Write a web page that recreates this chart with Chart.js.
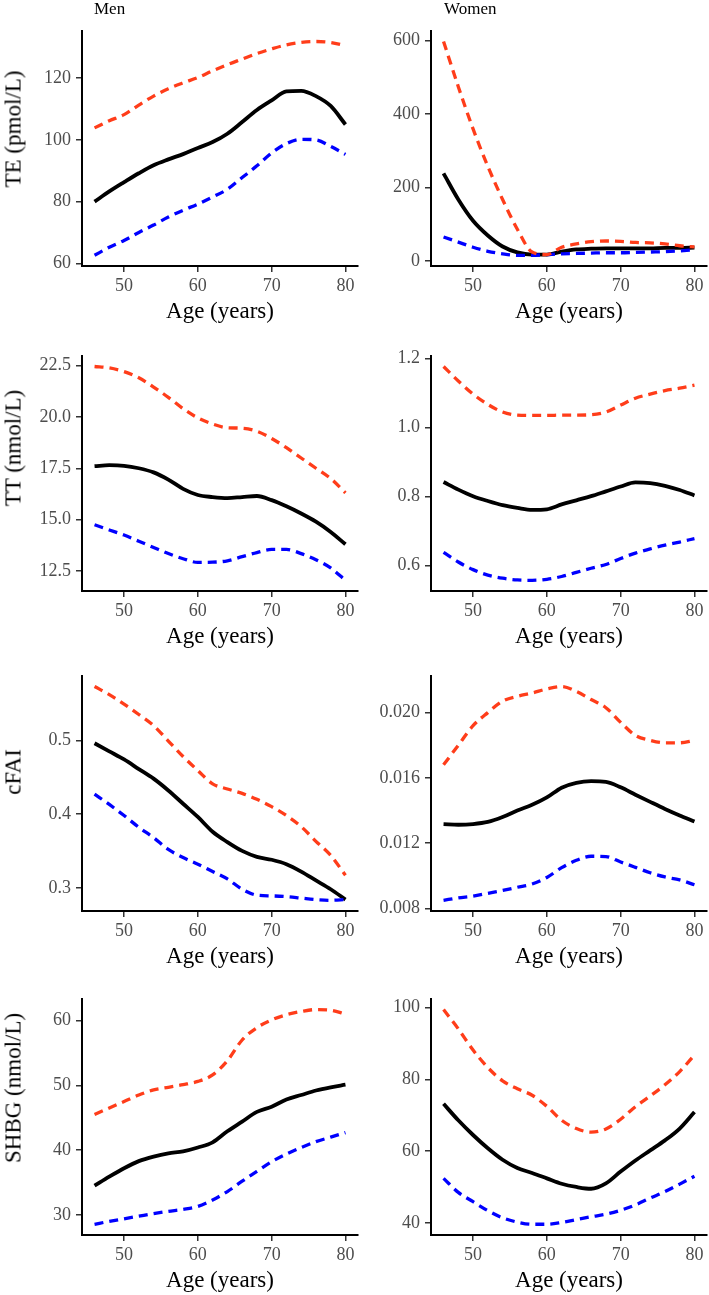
<!DOCTYPE html>
<html>
<head>
<meta charset="utf-8">
<script src="https://cdn.jsdelivr.net/npm/chart.js@4.4.1/dist/chart.umd.min.js"></script>
<style>
  body { margin: 0; background: #fff; }
  #fig { position: relative; width: 709px; height: 1295px; overflow: hidden;
         font-family: 'Liberation Serif', 'Times New Roman', serif; color: #000; }
  .panel { position: absolute; }
  .ytitle { position: absolute; font-size: 23px; line-height: 1; white-space: nowrap;
            transform: translate(-50%, -50%) rotate(-90deg); }
  .sex { position: absolute; font-size: 17px; line-height: 1; }
</style>
</head>
<body>
<div id="fig"></div>
<script>
const ages = [46, 48, 50, 52, 54, 56, 58, 60, 62, 64, 66, 68, 70, 72, 74, 76, 78, 80];
const ageTicks = [50, 60, 70, 80];

// TE (pmol/L)
const teMenUpper = [103.9, 106.2, 108.2, 111.3, 114.2, 116.6, 118.5, 120.2, 122.4, 124.4, 126.2, 128.0, 129.5, 130.8, 131.6, 131.9, 131.6, 130.5];
const teMenMid   = [80.0, 83.3, 86.3, 89.2, 91.8, 93.7, 95.4, 97.4, 99.3, 102.0, 105.8, 109.7, 112.8, 115.7, 115.9, 114.2, 111.0, 105.0];
const teMenLower = [62.6, 65.2, 67.4, 70.0, 72.4, 75.0, 77.2, 79.2, 81.5, 84.0, 87.8, 91.6, 95.8, 98.8, 100.2, 100.0, 97.9, 95.3];
const teMenTicks = [60, 80, 100, 120];

const teWomenUpper = [598, 475, 360, 258, 168, 87, 25, 18, 38, 47, 53, 55, 54, 51, 50, 47, 42, 39];
const teWomenMid   = [239, 168, 110, 70, 40, 24, 18, 18, 26, 32, 34, 35, 35, 35, 35, 36, 36, 37];
const teWomenLower = [66, 52, 38, 27, 20, 16, 16, 18, 20, 21, 22, 23, 23, 24, 25, 26, 28, 31];
const teWomenTicks = [0, 200, 400, 600];

// TT (nmol/L)
const ttMenUpper = [22.45, 22.38, 22.2, 21.9, 21.45, 20.95, 20.4, 19.95, 19.65, 19.47, 19.45, 19.3, 18.95, 18.5, 18.0, 17.5, 17.0, 16.3];
const ttMenMid   = [17.6, 17.65, 17.62, 17.5, 17.3, 16.95, 16.5, 16.2, 16.1, 16.05, 16.1, 16.15, 15.95, 15.65, 15.3, 14.9, 14.4, 13.8];
const ttMenLower = [14.75, 14.5, 14.25, 13.95, 13.65, 13.35, 13.1, 12.92, 12.93, 13.0, 13.2, 13.4, 13.55, 13.55, 13.35, 13.05, 12.65, 12.05];
const ttMenTicks = [12.5, 15, 17.5, 20, 22.5];

const ttWomenUpper = [1.177, 1.135, 1.097, 1.067, 1.045, 1.036, 1.035, 1.035, 1.036, 1.036, 1.037, 1.045, 1.065, 1.085, 1.097, 1.107, 1.114, 1.123];
const ttWomenMid   = [0.842, 0.82, 0.801, 0.787, 0.775, 0.767, 0.761, 0.763, 0.777, 0.789, 0.801, 0.815, 0.829, 0.841, 0.839, 0.831, 0.819, 0.803];
const ttWomenLower = [0.638, 0.61, 0.588, 0.572, 0.563, 0.558, 0.557, 0.56, 0.568, 0.58, 0.592, 0.603, 0.62, 0.636, 0.648, 0.659, 0.668, 0.678];
const ttWomenTicks = [0.6, 0.8, 1.0, 1.2];

// cFAI
const cfaiMenUpper = [0.573, 0.562, 0.549, 0.535, 0.52, 0.499, 0.478, 0.459, 0.441, 0.434, 0.428, 0.42, 0.41, 0.398, 0.383, 0.363, 0.344, 0.317];
const cfaiMenMid   = [0.496, 0.485, 0.474, 0.461, 0.448, 0.432, 0.414, 0.396, 0.376, 0.362, 0.35, 0.342, 0.338, 0.332, 0.322, 0.31, 0.298, 0.284];
const cfaiMenLower = [0.427, 0.413, 0.398, 0.382, 0.368, 0.352, 0.341, 0.332, 0.322, 0.312, 0.298, 0.29, 0.289, 0.288, 0.286, 0.284, 0.283, 0.284];
const cfaiMenTicks = [0.3, 0.4, 0.5];

const cfaiWomenUpper = [0.0168, 0.018, 0.0192, 0.02, 0.0207, 0.021, 0.0212, 0.02145, 0.0216, 0.0213, 0.0208, 0.0203, 0.0194, 0.0186, 0.0183, 0.01815, 0.01815, 0.0183];
const cfaiWomenMid   = [0.01317, 0.01313, 0.01317, 0.0133, 0.0136, 0.014, 0.01435, 0.0148, 0.0154, 0.0157, 0.0158, 0.01576, 0.01542, 0.01497, 0.01453, 0.0141, 0.0137, 0.01333];
const cfaiWomenLower = [0.0085, 0.00865, 0.00876, 0.00893, 0.0091, 0.0093, 0.0095, 0.0099, 0.0105, 0.01095, 0.0112, 0.01118, 0.01085, 0.01052, 0.01019, 0.00993, 0.00975, 0.00945];
const cfaiWomenTicks = [0.008, 0.012, 0.016, 0.020];

// SHBG (nmol/L)
const shbgMenUpper = [45.5, 46.5, 47.5, 48.5, 49.3, 49.7, 50.1, 50.6, 51.6, 53.8, 57.0, 58.9, 60.1, 60.9, 61.4, 61.7, 61.6, 61.0];
const shbgMenMid   = [34.5, 35.9, 37.2, 38.3, 39.0, 39.5, 39.8, 40.4, 41.2, 42.9, 44.4, 45.9, 46.7, 47.8, 48.5, 49.2, 49.7, 50.1];
const shbgMenLower = [28.55, 29.0, 29.4, 29.8, 30.2, 30.55, 30.85, 31.3, 32.3, 33.6, 35.2, 36.7, 38.2, 39.4, 40.4, 41.3, 42.0, 42.7];
const shbgMenTicks = [30, 40, 50, 60];

const shbgWomenUpper = [99.5, 94.1, 88.2, 83.3, 79.6, 77.4, 75.6, 72.5, 68.6, 66.3, 65.3, 66.2, 68.9, 72.4, 75.4, 78.5, 82.2, 86.8];
const shbgWomenMid   = [73.2, 68.6, 64.5, 60.8, 57.6, 55.3, 53.9, 52.4, 50.9, 50.0, 49.5, 51.0, 54.3, 57.4, 60.2, 63.0, 66.3, 70.9];
const shbgWomenLower = [52.4, 48.5, 45.9, 43.4, 41.4, 40.2, 39.6, 39.6, 40.1, 40.9, 41.7, 42.4, 43.5, 45.0, 46.9, 48.7, 50.8, 53.0];
const shbgWomenTicks = [40, 60, 80, 100];

const panels = [
  { row: 0, col: 0, upper: teMenUpper, mid: teMenMid, lower: teMenLower, ticks: teMenTicks, dec: 0, ytitle: 'TE (pmol/L)' },
  { row: 0, col: 1, upper: teWomenUpper, mid: teWomenMid, lower: teWomenLower, ticks: teWomenTicks, dec: 0 },
  { row: 1, col: 0, upper: ttMenUpper, mid: ttMenMid, lower: ttMenLower, ticks: ttMenTicks, dec: 1, ytitle: 'TT (nmol/L)' },
  { row: 1, col: 1, upper: ttWomenUpper, mid: ttWomenMid, lower: ttWomenLower, ticks: ttWomenTicks, dec: 1 },
  { row: 2, col: 0, upper: cfaiMenUpper, mid: cfaiMenMid, lower: cfaiMenLower, ticks: cfaiMenTicks, dec: 1, ytitle: 'cFAI' },
  { row: 2, col: 1, upper: cfaiWomenUpper, mid: cfaiWomenMid, lower: cfaiWomenLower, ticks: cfaiWomenTicks, dec: 3 },
  { row: 3, col: 0, upper: shbgMenUpper, mid: shbgMenMid, lower: shbgMenLower, ticks: shbgMenTicks, dec: 0, ytitle: 'SHBG (nmol/L)' },
  { row: 3, col: 1, upper: shbgWomenUpper, mid: shbgWomenMid, lower: shbgWomenLower, ticks: shbgWomenTicks, dec: 0 }
];

// page layout (plot boxes in px)
const rowBox = [[25, 266], [350, 591], [670, 911], [993, 1235]];
const colBox = [[82, 358], [431, 707]];
const canvasLeft = [0, 362];
const yTitleCenter = [129, 448, 772, 1088];
const padTop = 10, xAxisH = 60;

const fig = document.getElementById('fig');
const FONT = "'Liberation Serif', 'Times New Roman', serif";

// ggplot-like 5% expansion
function expand(lo, hi) {
  const r = hi - lo;
  return [lo - 0.05 * r, hi + 0.05 * r];
}

function series(arr) {
  return ages.map((a, i) => ({ x: a, y: arr[i] }));
}

panels.forEach(p => {
  const [top, bottom] = rowBox[p.row];
  const [left, right] = colBox[p.col];
  const cl = canvasLeft[p.col];
  const cw = (p.col === 0 ? 360 : 709 - cl);
  const ct = top - padTop;
  const ch = bottom + xAxisH - ct;

  const wrap = document.createElement('div');
  wrap.className = 'panel';
  wrap.style.left = cl + 'px';
  wrap.style.top = ct + 'px';
  const canvas = document.createElement('canvas');
  canvas.width = cw;
  canvas.height = ch;
  wrap.appendChild(canvas);
  fig.appendChild(wrap);

  const all = p.upper.concat(p.mid, p.lower);
  const [ymin, ymax] = expand(Math.min(...all), Math.max(...all));
  const [xmin, xmax] = expand(ages[0], ages[ages.length - 1]);

  const axisGrid = { display: true, drawOnChartArea: false, drawTicks: true, tickLength: 6, color: '#333', lineWidth: 1.5 };
  const axisBorder = { display: true, color: '#000', width: 2 };
  const tickFont = { family: FONT, size: 18 };

  new Chart(canvas.getContext('2d'), {
    type: 'line',
    data: {
      datasets: [
        { data: series(p.upper), borderColor: '#FF3D1A', borderWidth: 3.3, borderDash: [9, 6] },
        { data: series(p.lower), borderColor: '#0000FF', borderWidth: 3.3, borderDash: [9, 6] },
        { data: series(p.mid), borderColor: '#000000', borderWidth: 3.8 }
      ]
    },
    options: {
      responsive: false,
      animation: false,
      events: [],
      layout: { padding: { top: padTop, left: 0, right: cw - (right - cl), bottom: 0 } },
      elements: {
        point: { radius: 0 },
        line: { cubicInterpolationMode: 'monotone', fill: false, borderCapStyle: 'butt' }
      },
      plugins: { legend: { display: false }, tooltip: { enabled: false } },
      scales: {
        x: {
          type: 'linear',
          min: xmin, max: xmax,
          grid: axisGrid,
          border: axisBorder,
          ticks: { font: tickFont, color: '#4D4D4D', padding: 3, autoSkip: false, maxRotation: 0,
                   callback: v => String(v) },
          afterBuildTicks: s => { s.ticks = ageTicks.map(v => ({ value: v })); },
          afterFit: s => { s.height = xAxisH; },
          title: { display: true, text: 'Age (years)', color: '#000',
                   font: { family: FONT, size: 23 }, padding: { top: 0, bottom: 0 } }
        },
        y: {
          type: 'linear',
          min: ymin, max: ymax,
          grid: axisGrid,
          border: axisBorder,
          ticks: { font: tickFont, color: '#4D4D4D', padding: 5, autoSkip: false,
                   callback: v => Number(v).toFixed(p.dec) },
          afterBuildTicks: s => { s.ticks = p.ticks.filter(v => v >= ymin && v <= ymax).map(v => ({ value: v })); },
          afterFit: s => { s.width = left - cl; }
        }
      }
    }
  });

  if (p.ytitle) {
    const t = document.createElement('div');
    t.className = 'ytitle';
    t.textContent = p.ytitle;
    t.style.left = '13px';
    t.style.top = yTitleCenter[p.row] + 'px';
    fig.appendChild(t);
  }
});

// sex labels above the first row
[['Men', 94], ['Women', 444]].forEach(([txt, x]) => {
  const d = document.createElement('div');
  d.className = 'sex';
  d.textContent = txt;
  d.style.left = x + 'px';
  d.style.top = '0px';
  fig.appendChild(d);
});
</script>
</body>
</html>
